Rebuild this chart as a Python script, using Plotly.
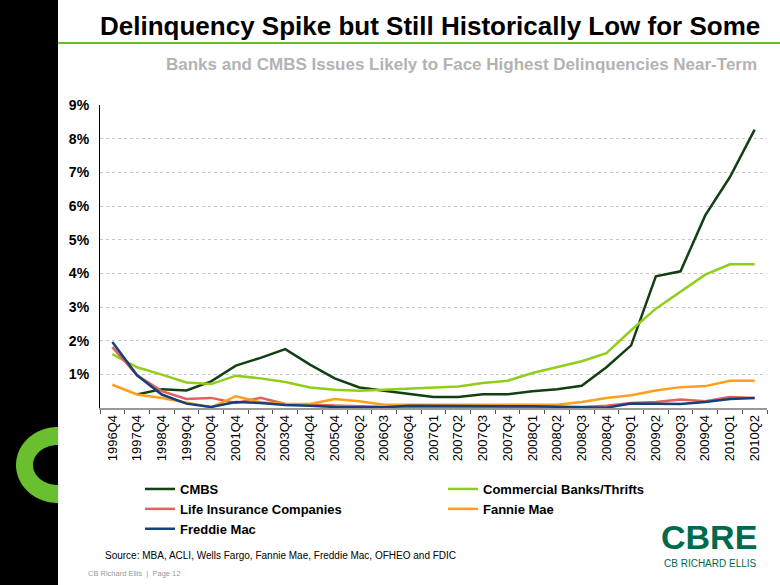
import numpy as np
import plotly.graph_objects as go

quarters = ["1996Q4", "1997Q4", "1998Q4", "1999Q4", "2000Q4", "2001Q4", "2002Q4", "2003Q4",
            "2004Q4", "2005Q4", "2006Q2", "2006Q3", "2006Q4", "2007Q1", "2007Q2", "2007Q3",
            "2007Q4", "2008Q1", "2008Q2", "2008Q3", "2008Q4", "2009Q1", "2009Q2", "2009Q3",
            "2009Q4", "2010Q1", "2010Q2"]

cmbs = [None, 0.40, 0.56, 0.52, 0.79, 1.26, 1.49, 1.75, 1.29, 0.88, 0.61, 0.51, 0.43,
        0.33, 0.33, 0.41, 0.41, 0.50, 0.56, 0.66, 1.21, 1.86, 3.91, 4.06, 5.72, 6.86, 8.27]
banks = [1.60, 1.21, 0.99, 0.76, 0.71, 0.96, 0.88, 0.77, 0.61, 0.54, 0.51, 0.54, 0.57,
         0.61, 0.64, 0.74, 0.81, 1.04, 1.21, 1.39, 1.63, 2.31, 2.95, 3.45, 3.96, 4.27, 4.27]
life = [1.81, 0.97, 0.50, 0.27, 0.30, 0.15, 0.30, 0.12, 0.10, 0.07, 0.05, 0.04, 0.03,
        0.03, 0.03, 0.03, 0.03, 0.03, 0.03, 0.03, 0.07, 0.15, 0.18, 0.25, 0.20, 0.33, 0.30]
fannie = [0.69, 0.40, 0.30, 0.15, 0.02, 0.35, 0.17, 0.12, 0.12, 0.27, 0.20, 0.10, 0.10,
          0.10, 0.10, 0.10, 0.10, 0.10, 0.10, 0.18, 0.30, 0.38, 0.52, 0.62, 0.65, 0.81, 0.81]
freddie = [1.96, 0.97, 0.40, 0.13, 0.03, 0.18, 0.15, 0.09, 0.07, 0.03, 0.02, 0.02, 0.07,
           0.07, 0.07, 0.07, 0.06, 0.05, 0.04, 0.02, 0.01, 0.13, 0.13, 0.12, 0.18, 0.27, 0.30]

series_names = ["CMBS", "Commercial Banks/Thrifts", "Life Insurance Companies", "Fannie Mae", "Freddie Mac"]
series_colors = ["#123f14", "#92cd19", "#e0625c", "#ff9f1c", "#15407a"]
series_values = [cmbs, banks, life, fannie, freddie]

ytick_vals = [1, 2, 3, 4, 5, 6, 7, 8, 9]
ytick_text = ["1%", "2%", "3%", "4%", "5%", "6%", "7%", "8%", "9%"]

W, H = 780, 585
L, R, T, B = 100, 13, 105, 177
PW, PH = W - L - R, H - T - B


def xp(x):
    return (x - L) / PW


def yp(y):
    return (H - B - y) / PH


FONT = "Liberation Sans, Arial, sans-serif"

fig = go.Figure()
for name, color, vals in zip(series_names, series_colors, series_values):
    fig.add_trace(go.Scatter(x=quarters, y=vals, name=name, mode="lines",
                             line=dict(color=color, width=2.5)))

shapes = []
# black sidebar
shapes.append(dict(type="rect", xref="paper", yref="paper", x0=xp(0), x1=xp(58),
                   y0=yp(H), y1=yp(0), fillcolor="black", line=dict(width=0), layer="above"))
# green ring
cx, cy = 58, 465
ang = np.linspace(np.pi / 2, 3 * np.pi / 2, 60)
outer = [(cx + 42 * np.cos(a), cy - 38 * np.sin(a)) for a in ang]
inner = [(cx + 25 * np.cos(a), cy - 20 * np.sin(a)) for a in ang[::-1]]
pts = outer + inner
path = "M " + " L ".join(f"{xp(px):.5f},{yp(py):.5f}" for px, py in pts) + " Z"
shapes.append(dict(type="path", xref="paper", yref="paper", path=path,
                   fillcolor="#6abf2e", line=dict(width=0), layer="above"))
# green rule under title
shapes.append(dict(type="line", xref="paper", yref="paper", x0=xp(58), x1=xp(780),
                   y0=yp(43), y1=yp(43), line=dict(color="#66bb33", width=2)))

annotations = [
    dict(text="Delinquency Spike but Still Historically Low for Some", x=xp(762), y=yp(26),
         xref="paper", yref="paper", xanchor="right", yanchor="middle", showarrow=False,
         font=dict(family=FONT, size=26, color="black", weight="bold")),
    dict(text="Banks and CMBS Issues Likely to Face Highest Delinquencies Near-Term", x=xp(759), y=yp(64),
         xref="paper", yref="paper", xanchor="right", yanchor="middle", showarrow=False,
         font=dict(family=FONT, size=17, color="#b3b3b3", weight="bold")),
    dict(text="Source: MBA, ACLI, Wells Fargo, Fannie Mae, Freddie Mac, OFHEO and FDIC", x=xp(103), y=yp(555),
         xref="paper", yref="paper", xanchor="left", yanchor="middle", showarrow=False,
         font=dict(family=FONT, size=10, color="black")),
    dict(text="CB Richard Ellis  |  Page 12", x=xp(86), y=yp(573),
         xref="paper", yref="paper", xanchor="left", yanchor="middle", showarrow=False,
         font=dict(family=FONT, size=7.5, color="#999999")),
    dict(text="CBRE", x=xp(759), y=yp(537),
         xref="paper", yref="paper", xanchor="right", yanchor="middle", showarrow=False,
         font=dict(family=FONT, size=34, color="#006a4d", weight="bold")),
    dict(text="CB RICHARD ELLIS", x=xp(759), y=yp(563),
         xref="paper", yref="paper", xanchor="right", yanchor="middle", showarrow=False,
         font=dict(family=FONT, size=10, color="#006a4d")),
]

fig.update_layout(
    width=W, height=H,
    margin=dict(l=L, r=R, t=T, b=B, autoexpand=False),
    paper_bgcolor="white", plot_bgcolor="white",
    shapes=shapes, annotations=annotations,
    showlegend=True,
    legend=dict(orientation="h", x=xp(140), y=yp(474), xanchor="left", yanchor="top",
                entrywidth=258, entrywidthmode="pixels", traceorder="normal",
                font=dict(family=FONT, size=13, color="black", weight="bold"),
                bgcolor="rgba(0,0,0,0)"),
    xaxis=dict(type="category", categoryorder="array", categoryarray=quarters,
               range=[-0.5, len(quarters) - 0.5],
               showline=True, linecolor="#999999", linewidth=1.5,
               ticks="outside", tickson="boundaries", ticklen=4, tickcolor="#555555",
               tickangle=-90, showgrid=False, automargin=False,
               tickfont=dict(family=FONT, size=13, color="black")),
    yaxis=dict(range=[0, 9], tickvals=ytick_vals, ticktext=ytick_text,
               showline=True, linecolor="black", linewidth=1.2,
               showgrid=True, gridcolor="#c8c8c8", gridwidth=1, griddash="dot",
               zeroline=False, ticks="", ticklabelstandoff=7, automargin=False,
               tickfont=dict(family=FONT, size=14, color="black", weight="bold")),
)

fig.write_html("out.html", config={"displayModeBar": False},
               post_script="document.body.style.margin='0';")
